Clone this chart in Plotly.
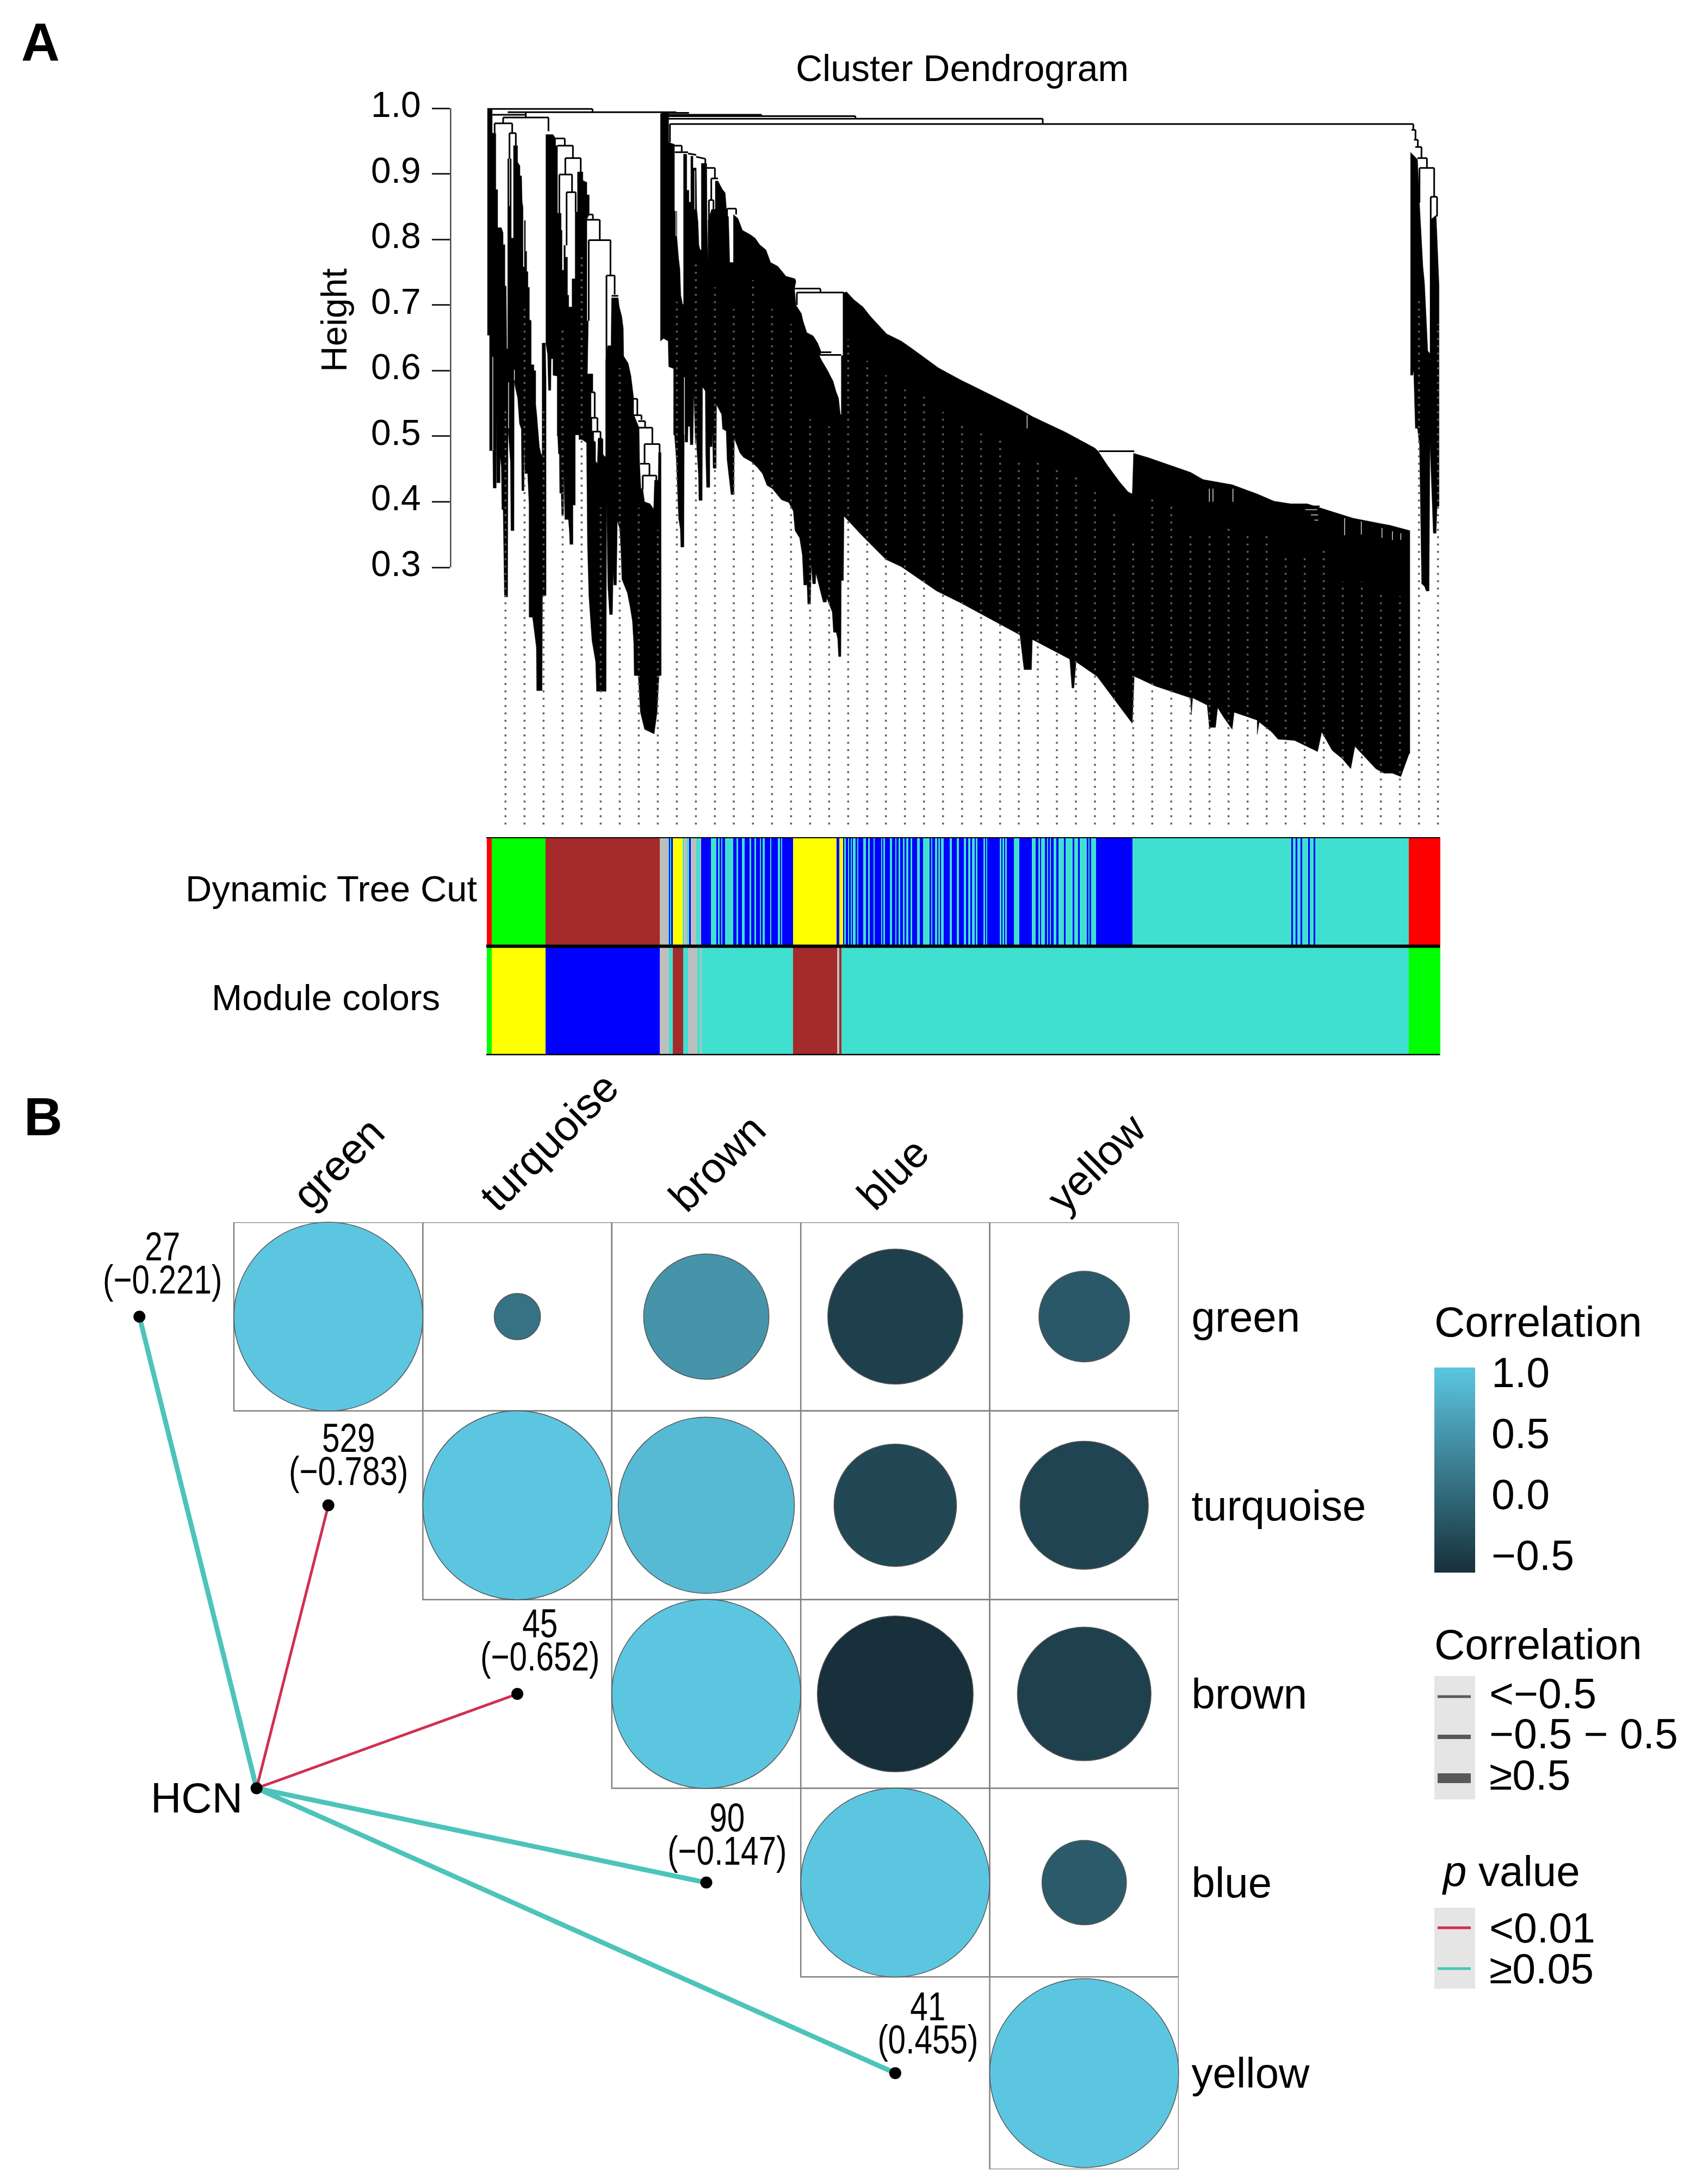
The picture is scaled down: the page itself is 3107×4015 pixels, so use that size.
import numpy as np
import plotly.graph_objects as go

# ---------- page calibration ----------
W, H = 3107, 4015
FONT = "Liberation Sans"
def PX(v): return v / W
def PY(v): return 1 - v / H

# ---------- A: dendrogram data (leaf rank, merge height) ----------
height_ticks = [0.3, 0.4, 0.5, 0.6, 0.7, 0.8, 0.9, 1.0]

ab_leaf = [48,75,75,95,95,105,105,125,135,135,145,145,152,155,160,160,180,180,192,192,215,215,228,228,237,240,245,245,252,252,258,258,265,265,272,272,280,280,290,290,305,305,315,315,320,325,335,345,350,350,368,372,372,352,350,320,318,310,302,297,278,278,270,255,252,250,238,235,225,215,200,196,195,178,175,162,160,142,140,135,128,125,118,118,100,98,97,80,78,60,60,48]
ab_height = [.998,.998,.962,.962,.876,.876,.818,.818,.810,.792,.792,.729,.729,.633,.633,.923,.923,.802,.802,.943,.943,.918,.912,.897,.897,.858,.849,.758,.758,.829,.829,.782,.782,.751,.751,.727,.727,.678,.676,.609,.609,.600,.600,.548,.535,.518,.484,.472,.472,.642,.642,.585,.257,.257,.112,.112,.178,.196,.211,.224,.224,.396,.443,.443,.490,.417,.417,.511,.519,.558,.577,.585,.356,.356,.461,.512,.255,.255,.293,.388,.388,.453,.469,.429,.429,.535,.421,.421,.478,.478,.654,.654]

cd_leaf = [370,410,425,425,435,435,455,455,460,460,470,470,478,478,490,490,497,497,515,515,532,532,545,545,575,575,597,597,610,610,597,597,605,600,630,630,620,620,625,625,635,635,645,645,655,660,680,680,695,700,700,712,730,733,770,775,790,798,800,825,840,848,855,855,885,888,895,905,915,945,965,970,990,992,1006,1007,995,984,968,915,892,880,858,855,848,835,820,790,785,778,765,760,745,742,738,722,718,712,706,703,650,645,625,615,608,600,595,570,553,553,533,533,520,520,503,500,495,475,470,468,458,455,447,445,440,436,433,433,425,410,410,400,398,385,380,370]
cd_height = [.960,.960,.954,.943,.943,.840,.840,.814,.814,.753,.753,.791,.791,.773,.773,.715,.715,.697,.697,.740,.740,.842,.842,.903,.903,.890,.887,.868,.868,.838,.831,.676,.676,.595,.595,.569,.567,.529,.529,.508,.508,.493,.491,.462,.458,.497,.497,.475,.469,.469,.614,.638,.638,.711,.711,.698,.682,.664,.622,.611,.592,.571,.558,.533,.513,.458,.420,.420,.400,.397,.389,.433,.433,.475,.475,.135,.135,.079,.046,.053,.079,.135,.135,.185,.218,.240,.261,.282,.324,.359,.371,.273,.273,.294,.228,.228,.246,.273,.404,.111,.111,.156,.188,.228,.255,.335,.490,.495,.495,.502,.502,.395,.395,.335,.335,.356,.373,.373,.450,.380,.380,.413,.413,.473,.473,.500,.500,.592,.592,.593,.618,.618,.570,.570,.625,.642]

main_leaf = [1002,1048,1048,1080,1080,1093,1093,1103,1110,1115,1125,1130,1130,1148,1148,1160,1160,1170,1170,1182,1182,1200,1203,1210,1215,1222,1228,1228,1258,1258,1260,1260,1265,1265,1285,1305,1305,1320,1345,1360,1365,1368,1378,1385,1405,1405,1430,1455,1500,1525,1550,1585,1610,1650,1695,1745,1750,1742,1750,1780,1790,1810,1845,1870,1890,1880,1895,1925,1945,1955,1970,1985,1995,2000,2000,2013,2013,2030,2070,2120,2160,
 2250,2331,2388,2537,2664,2847,2985,3054,3238,3398,3417,3467,3536,3582,3605,3612,3697,3926,3995,4156,4294,4386,4477,4569,4638,4822,5028,5136,
 5136,5132,5086,5040,4994,4948,4833,4810,4764,4707,4650,4627,4500,4409,4374,4305,4294,4294,4167,4156,4110,4076,4064,4030,4018,3938,3931,3926,3731,3616,3605,3559,3410,3295,3283,3272,3260,3054,3049,3008,2985,2664,2526,2331,2246,2113,2016,
 2015,2012,2000,1998,1985,1980,1972,1957,1950,1920,1918,1900,1860,1858,1842,1835,1830,1815,1810,1810,1793,1785,1770,1745,1735,1710,1670,1620,1590,1565,1535,1505,1460,1440,1410,1408,1392,1380,1370,1365,1345,1340,1312,1310,1293,1290,1288,1275,1275,1257,1252,1250,1235,1233,1215,1212,1198,1195,1187,1182,1167,1165,1155,1153,1138,1135,1132,1115,1112,1103,1098,1090,1080,1075,1075,1048,1045,1020,1002]
main_height = [.992,.992,.948,.945,.843,.843,.805,.771,.755,.715,.701,.701,.930,.930,.875,.875,.857,.857,.927,.927,.909,.909,.846,.827,.791,.784,.784,.916,.916,.908,.908,.818,.766,.829,.846,.846,.889,.889,.876,.871,.853,.835,.835,.765,.765,.838,.832,.814,.807,.802,.792,.784,.765,.759,.744,.740,.736,.725,.700,.687,.675,.658,.653,.642,.628,.622,.614,.600,.589,.584,.569,.558,.533,.533,.622,.625,.719,.720,.708,.697,.683,
 .656,.645,.634,.604,.585,.560,.541,.530,.506,.482,.477,.456,.430,.415,.412,.474,.467,.445,.434,.426,.412,.401,.397,.397,.391,.375,.364,.356,
 .016,.016,-.019,-.014,-.014,-.007,.027,-.007,.008,.021,.049,.019,.036,.038,.049,.064,.045,.067,.079,.053,.071,.086,.056,.056,.090,.101,.075,.101,.119,.134,.062,.079,.134,.156,.116,.116,.160,.190,.144,.144,.197,.245,.264,.301,.312,.349,.377,
 .378,.280,.280,.164,.164,.191,.201,.201,.232,.253,.247,.247,.291,.275,.275,.305,.244,.244,.283,.273,.273,.319,.345,.356,.386,.399,.403,.420,.425,.443,.453,.461,.468,.475,.497,.411,.411,.439,.464,.508,.511,.533,.548,.451,.451,.506,.484,.484,.422,.422,.476,.569,.575,.402,.402,.442,.504,.487,.569,.487,.487,.515,.515,.491,.491,.585,.331,.331,.359,.374,.414,.464,.502,.502,.603,.606,.645,.649,.645]

right_leaf = [5139,5178,5189,5208,5217,5226,5235,5247,5247,5263,5281,5297,5297,5286,5281,5265,5247,5242,5226,5217,5201,5189,5178,5166,5157,5152,5139]
right_height = [.933,.922,.856,.759,.733,.685,.630,.626,.830,.833,.837,.730,.393,.393,.352,.352,.489,.264,.264,.271,.275,.486,.512,.512,.600,.593,.593]

# upper merges: each entry is leaf_a, height_a, leaf_b, height_b
merges = [
 (48,.999,628,.999),(628,.999,628,.995),(160,.994,1090,.994),(1090,.994,1090,.992),(60,.990,255,.990),
 (1010,.993,1160,.993),(1040,.990,1560,.990),(1560,.990,1560,.988),(1040,.988,2078,.988),(2078,.988,2078,.984),
 (1040,.984,3111,.984),(3111,.984,3111,.976),(1055,.976,5155,.976),(5155,.976,5155,.967),(1055,.976,1055,.948),
 (260,.994,260,.986),(135,.986,385,.986),(135,.986,135,.977),(88,.977,185,.977),(88,.977,88,.962),(185,.977,185,.963),
 (170,.962,205,.962),(170,.962,170,.923),(205,.962,205,.943),(385,.986,385,.965),
 (425,.954,475,.954),(475,.954,475,.943),(435,.943,520,.943),(520,.943,520,.924),(478,.924,563,.924),(478,.924,478,.899),
 (563,.924,563,.903),(445,.899,515,.899),(445,.899,445,.840),(515,.899,515,.872),(485,.872,535,.872),(485,.872,485,.791),
 (535,.872,535,.842),(590,.838,630,.838),(630,.838,630,.831),(597,.830,668,.830),(668,.830,668,.799),(607,.799,727,.799),
 (607,.799,607,.676),(727,.799,727,.745),(705,.745,750,.745),(705,.745,705,.614),(750,.745,750,.716),(733,.714,770,.714),
 (620,.567,640,.567),(640,.567,640,.528),(620,.528,655,.528),(655,.528,655,.507),(635,.507,672,.507),(672,.507,672,.496),
 (662,.496,682,.496),(662,.496,660,.458),(682,.496,682,.473),
 (850,.557,875,.557),(875,.557,875,.532),(855,.532,898,.532),(898,.532,898,.525),(880,.523,918,.523),(918,.523,918,.513),
 (885,.513,958,.513),(958,.513,958,.488),(915,.488,998,.488),(915,.488,915,.458),(998,.488,998,.474),(890,.458,942,.458),
 (942,.458,942,.440),(905,.440,980,.440),(905,.440,905,.419),(980,.440,980,.433),
 (1078,.943,1120,.943),(1120,.943,1120,.934),(1082,.933,1155,.933),(1155,.931,1200,.929),(1200,.926,1250,.923),(1250,.923,1250,.916),
 (1258,.909,1303,.909),(1303,.909,1303,.893),(1283,.893,1320,.893),(1283,.893,1283,.860),(1270,.860,1295,.860),(1270,.860,1270,.829),
 (1295,.860,1295,.846),(1370,.847,1420,.847),(1370,.847,1370,.835),(1420,.847,1420,.838),(1720,.738,1745,.738),
 (1742,.725,1885,.725),(1885,.725,1885,.719),(1755,.719,2013,.719),(1755,.719,1755,.700),(2013,.719,2013,.625),
 (1880,.624,2000,.624),(1890,.628,1945,.628),(3421,.477,3616,.477),(4018,.426,4076,.426),(4489,.393,4638,.393),
 (5145,.967,5167,.967),(5159,.952,5180,.952),(5167,.967,5167,.952),(5166,.941,5200,.941),(5180,.952,5180,.941),
 (5178,.924,5230,.924),(5200,.941,5200,.924),(5189,.909,5270,.909),(5230,.924,5230,.909),(5189,.909,5189,.856),
 (5270,.909,5270,.865),(5251,.865,5286,.865),(5251,.865,5251,.830),(5286,.865,5286,.835),
]
# thin uncovered slits between neighbouring branches
slits = [
 (170,.923,170,.851),(78,.621,78,.478),(165,.582,165,.512),(197,.601,197,.585),(1135,.590,1135,.502),
 (1192,.905,1192,.846),(1088,.843,1088,.805),(3025,.532,3025,.512),(4030,.420,4030,.400),(4050,.420,4050,.400),
 (4160,.420,4160,.400),(4776,.375,4776,.349),(4868,.370,4868,.350),(4982,.360,4982,.345),(5040,.355,5040,.342),
 (5086,.352,5086,.342),(4560,.388,4625,.388),(4590,.380,4630,.380),(4610,.372,4630,.372),
]

guide_leaf = [148,253,358,463,568,673,778,883,988,1093,1198,1303,1407,1513,1618,1723,1828,1933,2038,2143,2246,2351,2456,2561,2666,2771,2876,2979,3084,3189,3294,3399,3505,3610,3715,3820,3926,4031,4136,4241,4346,4451,4556,4661,4766,4871,4976,5081,5186,5291]
guide_top = [.538,.694,.538,.661,.773,.391,.604,.391,.357,.705,.762,.727,.694,.738,.694,.671,.526,.515,.648,.615,.593,.571,.560,.537,.523,.504,.493,.463,.460,.449,.437,.415,.382,.338,.404,.393,.349,.349,.360,.349,.349,.315,.315,.326,.278,.278,.264,.256,.708,.671]
guide_floor = -0.092

# ---------- A: colour strips ----------
COLS = {"r":"#FF0000","g":"#00FF00","n":"#A52A2A","a":"#BEBEBE","t":"#40E0D0","b":"#0000FF","y":"#FFFF00"}
cut_segments = [(42,"r"),(69,"g"),(367,"n"),(998,"a"),(1043,"t"),(1048,"b"),(1055,"t"),(1060,"b"),(1070,"y"),(1125,"t"),(1128,"a"),(1146,"t"),(1158,"b"),(1167,"a"),(1198,"t"),(1218,"a"),(1225,"b"),(1280,"t"),(1308,"b"),(1317,"t"),(1328,"b"),(1336,"t"),(1343,"b"),(1357,"t"),(1401,"b"),(1420,"t"),(1428,"b"),(1450,"t"),(1464,"b"),(1492,"t"),(1500,"b"),(1520,"t"),(1528,"b"),(1548,"t"),(1555,"b"),(1563,"t"),(1577,"b"),(1605,"t"),(1612,"b"),(1648,"t"),(1660,"b"),(1667,"t"),(1673,"b"),(1733,"y"),(1971,"b"),(1988,"y"),(2007,"b"),(2013,"t"),(2022,"b"),(2034,"t"),(2042,"b"),(2053,"t"),(2058,"b"),(2063,"t"),(2078,"b"),(2085,"t"),(2092,"b"),(2118,"t"),(2133,"b"),(2147,"t"),(2155,"b"),(2175,"t"),(2183,"b"),(2217,"t"),(2227,"b"),(2230,"t"),(2240,"b"),(2267,"t"),(2277,"b"),(2295,"t"),(2303,"b"),(2315,"t"),(2323,"b"),(2338,"t"),(2346,"b"),(2357,"t"),(2367,"b"),(2380,"t"),(2388,"b"),(2415,"t"),(2430,"b"),(2450,"t"),(2485,"b"),(2493,"t"),(2501,"b"),(2514,"t"),(2528,"b"),(2534,"t"),(2544,"b"),(2548,"t"),(2562,"b"),(2597,"t"),(2607,"b"),(2635,"t"),(2648,"b"),(2675,"t"),(2685,"b"),(2697,"t"),(2713,"b"),(2718,"t"),(2735,"b"),(2740,"t"),(2748,"b"),(2782,"t"),(2790,"b"),(2798,"t"),(2804,"b"),(2872,"t"),(2880,"b"),(2887,"t"),(2895,"b"),(2902,"t"),(2910,"b"),(2951,"t"),(2980,"b"),(3050,"t"),(3070,"b"),(3084,"t"),(3093,"b"),(3099,"t"),(3120,"b"),(3133,"t"),(3140,"b"),(3148,"t"),(3155,"b"),(3168,"t"),(3184,"b"),(3195,"t"),(3225,"b"),(3235,"t"),(3274,"b"),(3284,"t"),(3304,"b"),(3312,"t"),(3353,"b"),(3361,"t"),(3367,"b"),(3375,"t"),(3403,"b"),(3604,"t"),(4479,"b"),(4490,"t"),(4503,"b"),(4514,"t"),(4531,"b"),(4541,"t"),(4572,"b"),(4582,"t"),(4603,"b"),(4613,"t"),(5127,"r")]
cut_end = 5301
mod_segments = [(42,"g"),(69,"y"),(367,"b"),(998,"a"),(1049,"t"),(1070,"n"),(1125,"t"),(1152,"a"),(1204,"t"),(1218,"a"),(1228,"t"),(1731,"n"),(1975,"a"),(1986,"n"),(2000,"t"),(5127,"g")]
mod_end = 5301
strip_names = ["Dynamic Tree Cut","Module colors"]

# ---------- B: correlation matrix and Mantel links ----------
modules = ["green","turquoise","brown","blue","yellow"]
corr = [
 [1.00, 0.06, 0.44,-0.51,-0.23],
 [None, 1.00, 0.87,-0.42,-0.46],
 [None, None, 1.00,-0.68,-0.50],
 [None, None, None, 1.00,-0.20],
 [None, None, None, None, 1.00],
]
row_center = [0.5,1.5,2.5,3.5,4.51]
link_n = [27,529,45,90,41]
link_r = ["\u22120.221","\u22120.783","\u22120.652","\u22120.147","0.455"]
link_p = ["\u22650.05","<0.01","<0.01","\u22650.05","\u22650.05"]
link_strong = [True,False,False,True,True]
hcn_col, hcn_row = 0.12, 3.0
corr_min, corr_max = -0.683, 1.0
corr_ticks = [-0.5,0.0,0.5,1.0]
corr_tick_text = ["\u22120.5","0.0","0.5","1.0"]
width_labels = ["<\u22120.5","\u22120.5 \u2212 0.5","\u22650.5"]
width_key = [5,8,18]
p_labels = ["<0.01","\u22650.05"]
P_COL = {"<0.01":"#D1304F","\u22650.05":"#4DC4BA"}

fig = go.Figure()

def seg_xy(rows):
    xs, ys = [], []
    for a,b,c,d in rows:
        xs += [a,c,None]; ys += [b,d,None]
    return xs, ys

for lx, ly in [(ab_leaf,ab_height),(cd_leaf,cd_height),(main_leaf,main_height),(right_leaf,right_height)]:
    fig.add_trace(go.Scatter(x=lx,y=ly,mode="lines",fill="toself",fillcolor="black",
                             line=dict(color="black",width=0.5),xaxis="x",yaxis="y",hoverinfo="skip"))
sx, sy = seg_xy(slits)
fig.add_trace(go.Scatter(x=sx,y=sy,mode="lines",line=dict(color="#d8d8d8",width=1.5),xaxis="x",yaxis="y",hoverinfo="skip"))
mx, my = seg_xy(merges)
fig.add_trace(go.Scatter(x=mx,y=my,mode="lines",line=dict(color="black",width=3),xaxis="x",yaxis="y",hoverinfo="skip"))
gx, gy = [], []
for l,t in zip(guide_leaf,guide_top):
    gx += [l,l,None]; gy += [guide_floor,t,None]
fig.add_trace(go.Scatter(x=gx,y=gy,mode="lines",line=dict(color="#5e5e5e",width=3.5,dash="3.5px,10px"),xaxis="x",yaxis="y",hoverinfo="skip"))
fig.add_trace(go.Scatter(x=[-156,-156],y=[min(height_ticks),max(height_ticks)],mode="lines",
                         line=dict(color="#222",width=3),xaxis="x",yaxis="y",hoverinfo="skip"))

for row,(segs,end) in enumerate([(cut_segments,cut_end),(mod_segments,mod_end)]):
    st = [s for s,_ in segs]+[end]
    fig.add_trace(go.Bar(x=list(np.diff(st)),base=st[:-1],y=[row+0.5]*len(segs),orientation="h",width=1,
                         marker=dict(color=[COLS[c] for _,c in segs],line=dict(width=0)),xaxis="x2",yaxis="y2",hoverinfo="skip"))

for i,(p,strong) in enumerate(zip(link_p,link_strong)):
    fig.add_trace(go.Scatter(x=[hcn_col,i-0.5],y=[hcn_row,row_center[i]],mode="lines",
                             line=dict(color=P_COL[p],width=9 if strong else 5),xaxis="x3",yaxis="y3",hoverinfo="skip"))
fig.add_trace(go.Scatter(x=[hcn_col]+[i-0.5 for i in range(5)],y=[hcn_row]+row_center,mode="markers",
                         marker=dict(color="black",size=22),xaxis="x3",yaxis="y3",hoverinfo="skip"))
cx,cy,cv=[],[],[]
for r,row in enumerate(corr):
    for c,v in enumerate(row):
        if v is not None:
            cx.append(c+0.5); cy.append(row_center[r]); cv.append(v)
CELL = (2167-430)/5
fig.add_trace(go.Scatter(x=cx,y=cy,mode="markers",cliponaxis=False,xaxis="x3",yaxis="y3",hoverinfo="skip",
    marker=dict(color=cv,cmin=corr_min,cmax=corr_max,opacity=1,
                colorscale=[[0,"#17303B"],[1,"#5CC6E1"]],
                size=[CELL*np.sqrt(abs(v)) for v in cv],sizemode="diameter",
                line=dict(color="#555",width=1.5),
                colorbar=dict(x=PX(2637),xanchor="left",y=PY(2891),yanchor="bottom",lenmode="pixels",len=377,
                              thicknessmode="pixels",thickness=75,xpad=0,ypad=0,outlinewidth=0,
                              tickvals=corr_ticks,ticks="",showticklabels=False))))

shapes=[]
for r in range(5):
    for c in range(r,5):
        shapes.append(dict(type="rect",xref="x3",yref="y3",x0=c,x1=c+1,y0=r,y1=5.02 if r==4 else r+1,layer="below",
                           line=dict(color="#808080",width=2.5),fillcolor="white"))
for lvl,w in [(0,4),(1,6),(2,5)]:
    shapes.append(dict(type="line",xref="x2",yref="y2",x0=42,x1=5301,y0=lvl,y1=lvl,line=dict(color="black",width=w)))
KEYX0,KEYX1=2637,2712
LX0,LX1=2643,2704
shapes.append(dict(type="rect",xref="paper",yref="paper",x0=PX(KEYX0),x1=PX(KEYX1),y0=PY(3308),y1=PY(3081),fillcolor="#E5E5E5",line=dict(width=0),layer="below"))
shapes.append(dict(type="rect",xref="paper",yref="paper",x0=PX(KEYX0),x1=PX(KEYX1),y0=PY(3656),y1=PY(3507),fillcolor="#E5E5E5",line=dict(width=0),layer="below"))
for yy,w in zip([3119,3193,3269],width_key):
    shapes.append(dict(type="line",xref="paper",yref="paper",x0=PX(LX0),x1=PX(LX1),y0=PY(yy),y1=PY(yy),line=dict(color="#595959",width=w)))
for yy,l in zip([3544,3619],p_labels):
    shapes.append(dict(type="line",xref="paper",yref="paper",x0=PX(LX0),x1=PX(LX1),y0=PY(yy),y1=PY(yy),line=dict(color=P_COL[l],width=5)))
for v in corr_ticks[:-1]:
    yy = 2891-(v-corr_min)*224
    for a,b in [(2637,2652),(2697,2712)]:
        shapes.append(dict(type="line",xref="paper",yref="paper",x0=PX(a),x1=PX(b),y0=PY(yy),y1=PY(yy),line=dict(color="white",width=1.5)))

ann=[]
def T(px,py,text,size=66,xa="center",ya="middle",angle=0,weight=None):
    f=dict(family=FONT,size=size,color="black")
    if weight: f["weight"]=weight
    ann.append(dict(xref="paper",yref="paper",x=PX(px),y=PY(py),text=text,showarrow=False,xanchor=xa,yanchor=ya,
                    textangle=angle,font=f,borderpad=0,borderwidth=0))
T(74,77,"A",98,weight=700)
T(79,2053,"B",98,weight=700)
T(1769,125,"Cluster Dendrogram",68)
T(614,589,"Height",66,angle=-90)
T(878,1633,strip_names[0],67,xa="right")
T(599,1833,strip_names[1],67.5)
for name,(lx,ly) in zip(modules,[(622,2138),(1009,2099),(1318,2138),(1641,2158),(2015,2138)]):
    T(lx,ly,name,78,angle=-45)
T(361,3305,"HCN",78)
T(2637,2430,"Correlation",78,xa="left")
T(2637,3023,"Correlation",78,xa="left")
T(2651,3440,"<i>p</i> value",78,xa="left")
for v,l in zip(corr_ticks,corr_tick_text):
    T(2742,2891-(v-corr_min)*224+9,l,77,xa="left")
for yy,l in zip([3113,3187,3263],width_labels):
    T(2738,yy,l,77,xa="left")
for yy,l in zip([3544,3619],p_labels):
    T(2738,yy,l,77,xa="left")
for v in height_ticks:
    ann.append(dict(xref="paper",yref="y",x=PX(776),y=v,yshift=7,text="%.1f"%v,showarrow=False,xanchor="right",yanchor="middle",
                    font=dict(family=FONT,size=66,color="black")))
label_dx = [42,37,41,38,60]
label_dy = [80,75,81,71,74]
for i,(n,r) in enumerate(zip(link_n,link_r)):
    ann.append(dict(xref="x3",yref="y3",x=i-0.5,y=row_center[i],xshift=label_dx[i],yshift=label_dy[i],text=str(n)+"<br>("+r+")",showarrow=False,
                    xanchor="center",yanchor="middle",font=dict(family=FONT,size=75,color="black")))

Xr=[-157.5,5310]
fig.update_layout(
    width=W,height=H,margin=dict(l=0,r=0,t=0,b=0,autoexpand=False),paper_bgcolor="white",plot_bgcolor="rgba(0,0,0,0)",
    showlegend=False,barmode="overlay",bargap=0,shapes=shapes,annotations=ann,
    font=dict(family=FONT),
    xaxis=dict(domain=[PX(827.5),PX(2650)],range=Xr,visible=False,anchor="y"),
    yaxis=dict(domain=[PY(1530),PY(190)],range=[-0.1039,1.0075],anchor="x",showgrid=False,zeroline=False,showline=False,
               tickvals=height_ticks,showticklabels=False,ticks="outside",ticklen=33,tickwidth=3,tickcolor="#222"),
    xaxis2=dict(domain=[PX(827.5),PX(2650)],range=Xr,visible=False,anchor="y2"),
    yaxis2=dict(domain=[PY(1940),PY(1539)],range=[2,0],visible=False,anchor="x2"),
    xaxis3=dict(domain=[PX(82.6),PX(2167)],range=[-1,5],visible=False,anchor="y3"),
    yaxis3=dict(domain=[PY(3988),PY(2247)],range=[5.02,0],anchor="x3",side="right",showgrid=False,zeroline=False,showline=False,
                tickvals=row_center,ticktext=modules,ticks="outside",ticklen=7,tickcolor="rgba(0,0,0,0)",
                tickfont=dict(family=FONT,size=78,color="black")),
)
post = """
document.body.style.margin='0';
document.querySelectorAll('.annotation-text').forEach(function(t){
  var ls=t.querySelectorAll('tspan.line');
  if(ls.length===2){
    ls[1].setAttribute('dy','0.82em');
    var b=t.getBBox(); var cx=b.x+b.width/2;
    t.setAttribute('transform','translate('+cx+',0) scale(0.78,1) translate('+(-cx)+',0)');
  }
});
"""
fig.write_html("out.html",post_script=post,config={"displayModeBar":False})
